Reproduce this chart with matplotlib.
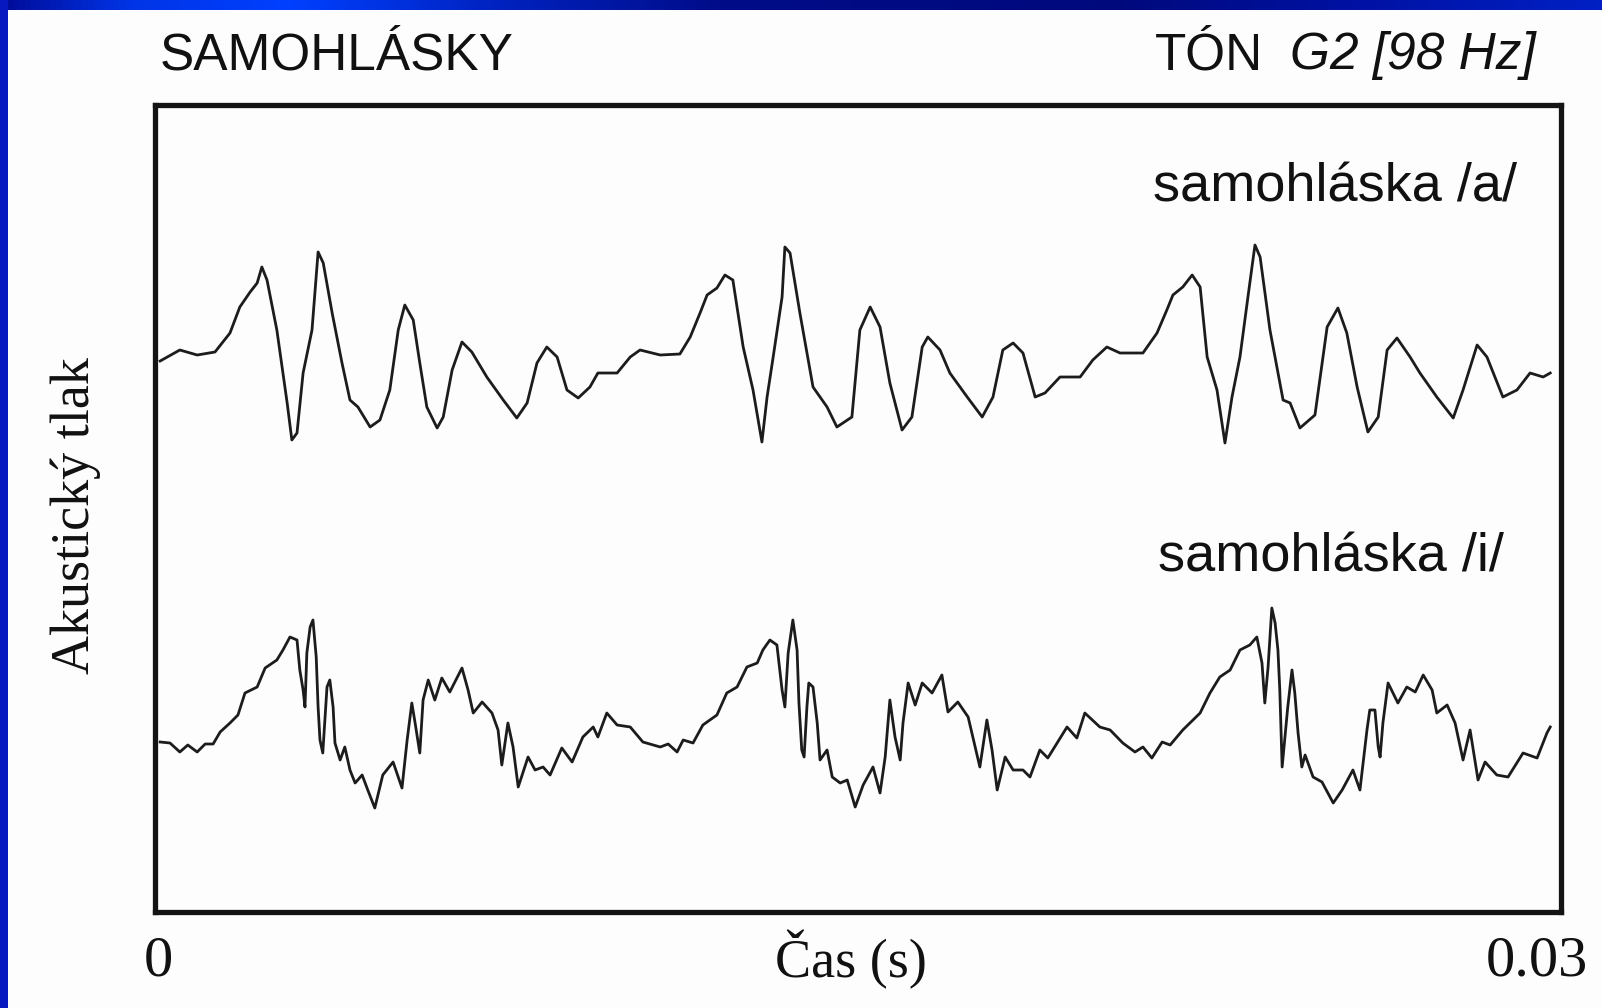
import numpy as np
import matplotlib
matplotlib.use("Agg")
import matplotlib.pyplot as plt
from matplotlib.patches import Rectangle
from matplotlib.colors import LinearSegmentedColormap

# ---- data (time in ms, acoustic pressure in arbitrary units) ----
t_a = [0.11, 0.53, 0.90, 1.28, 1.60, 1.81, 2.03, 2.18, 2.28, 2.39, 2.60, 2.82, 2.92, 3.03, 3.16,
       3.35, 3.48, 3.59, 3.78, 3.99, 4.16, 4.33, 4.59, 4.80, 5.01, 5.19, 5.33, 5.51, 5.65, 5.80,
       6.02, 6.15, 6.34, 6.55, 6.76, 7.08, 7.43, 7.72, 7.94, 8.15, 8.36, 8.58, 8.79, 9.03, 9.28,
       9.45, 9.86, 10.14, 10.35, 10.78, 11.20, 11.42, 11.63, 11.78, 11.99, 12.16, 12.33, 12.55,
       12.76, 12.95, 13.06, 13.19, 13.38, 13.44, 13.55, 13.76, 14.04, 14.34, 14.55, 14.87, 15.04,
       15.26, 15.47, 15.68, 15.94, 16.15, 16.37, 16.49, 16.75, 16.96, 17.33, 17.65, 17.88, 18.09,
       18.31, 18.52, 18.78, 18.99, 19.31, 19.74, 20.01, 20.31, 20.59, 21.08, 21.38, 21.59, 21.72,
       21.93, 22.13, 22.30, 22.45, 22.66, 22.83, 22.98, 23.15, 23.32, 23.47, 23.58, 23.79, 24.07,
       24.22, 24.43, 24.75, 25.01, 25.24, 25.43, 25.65, 25.88, 26.10, 26.29, 26.50, 26.78, 26.99,
       27.35, 27.70, 27.91, 28.21, 28.42, 28.76, 29.06, 29.34, 29.62, 29.77]
p_a = [-6, 5, 0, 3, 22, 48, 63, 72, 88, 75, 25, -48, -85, -78, -18,
       25, 103, 92, 42, -8, -45, -52, -72, -65, -35, 25, 50, 35, -8, -52,
       -73, -62, -15, 13, 3, -22, -45, -63, -48, -8, 8, -2, -35, -43, -32,
       -18, -18, -2, 5, 0, 1, 18, 42, 60, 67, 80, 75, 8,
       -35, -87, -42, -2, 58, 108, 102, 42, -32, -52, -72, -62, 25,
       48, 28, -28, -75, -62, 8, 18, 5, -18, -42, -62, -42, 5,
       12, 2, -42, -38, -22, -22, -5, 8, 2, 2, 22, 45, 60,
       68, 80, 68, -2, -35, -88, -42, -2, 58, 110, 98, 25, -45,
       -48, -73, -60, 28, 47, 22, -32, -77, -62, 5, 17, -2, -18,
       -42, -63, -35, 10, -2, -42, -35, -18, -22, -18]

t_i = [0.11, 0.32, 0.53, 0.70, 0.90, 1.07, 1.24, 1.39, 1.60, 1.77, 1.92, 2.18, 2.35, 2.60, 2.73,
       2.88, 3.03, 3.09, 3.16, 3.20, 3.24, 3.31, 3.37, 3.44, 3.48, 3.52, 3.58, 3.63, 3.67, 3.73,
       3.80, 3.84, 3.95, 4.05, 4.16, 4.27, 4.42, 4.54, 4.69, 4.86, 5.08, 5.27, 5.38, 5.48, 5.55,
       5.65, 5.72, 5.83, 5.97, 6.12, 6.29, 6.55, 6.68, 6.79, 6.98, 7.19, 7.32, 7.40, 7.53, 7.64,
       7.75, 7.96, 8.11, 8.28, 8.43, 8.68, 8.90, 9.13, 9.35, 9.45, 9.64, 9.86, 10.14, 10.41,
       10.78, 10.95, 11.14, 11.27, 11.48, 11.69, 11.99, 12.20, 12.42, 12.63, 12.85, 12.97, 13.12,
       13.27, 13.38, 13.44, 13.51, 13.59, 13.61, 13.70, 13.74, 13.80, 13.85, 13.91, 13.95, 14.04,
       14.13, 14.19, 14.34, 14.45, 14.62, 14.77, 14.94, 15.11, 15.32, 15.47, 15.58, 15.68, 15.79,
       15.90, 15.96, 16.07, 16.22, 16.37, 16.58, 16.79, 16.92, 17.13, 17.35, 17.60, 17.75, 17.86,
       17.97, 18.14, 18.31, 18.52, 18.67, 18.88, 19.05, 19.46, 19.67, 19.84, 20.16, 20.38, 20.65,
       20.91, 21.08, 21.27, 21.49, 21.66, 21.93, 22.30, 22.51, 22.72, 22.94, 23.15, 23.36, 23.51,
       23.62, 23.68, 23.75, 23.83, 23.90, 23.96, 24.00, 24.05, 24.11, 24.17, 24.26, 24.32, 24.39,
       24.47, 24.54, 24.71, 24.90, 25.14, 25.33, 25.56, 25.71, 25.86, 25.92, 26.03, 26.10, 26.14,
       26.20, 26.31, 26.52, 26.71, 26.89, 27.06, 27.25, 27.35, 27.57, 27.74, 27.91, 28.06, 28.23,
       28.38, 28.63, 28.87, 29.19, 29.49, 29.70, 29.77]
p_i = [-2, -3, -12, -5, -12, -4, -4, 8, 17, 25, 47, 53, 72, 80, 90,
       103, 100, 70, 50, 33, 87, 113, 120, 83, 33, 0, -13, 23, 53, 60,
       33, -3, -20, -7, -30, -43, -35, -50, -68, -35, -22, -48, 0, 37, 17,
       -13, 40, 60, 40, 62, 48, 72, 50, 27, 38, 27, 10, -25, 17, -7,
       -47, -17, -30, -27, -35, -8, -22, 3, 13, 3, 27, 15, 13, -2,
       -7, -4, -12, 0, -3, 15, 25, 47, 53, 73, 77, 90, 100,
       95, 50, 33, 87, 113, 120, 90, 37, -10, -17, 33, 57, 53,
       17, -20, -10, -37, -43, -40, -67, -45, -27, -53, -17, 40, 3,
       -20, 17, 57, 35, 57, 47, 65, 28, 38, 23, -27, 20, -10,
       -50, -17, -30, -30, -37, -10, -18, 13, 2, 27, 13, 10, -3,
       -12, -7, -18, -2, -5, 10, 27, 47, 63, 70, 90, 95, 103,
       77, 37, 73, 132, 117, 90, 50, -27, 3, 33, 70, 47, 7,
       -27, -15, -37, -42, -63, -50, -30, -50, 10, 30, 30, -7, -17,
       17, 57, 37, 53, 48, 65, 50, 27, 35, 17, -20, 10, -40,
       -22, -35, -37, -13, -18, 7, 13]

x_ticks = [0, 0.03]
x_tick_labels = ["0", "0.03"]

W, H = 1602, 1008
fig = plt.figure(figsize=(W / 100, H / 100), dpi=100)
fig.patch.set_facecolor("#fdfdfd")

# blue frame (slide border)
cmap = LinearSegmentedColormap.from_list(
    "bar", [(0, "#000c98"), (0.08, "#0034e6"), (0.18, "#0040ff"), (0.3, "#0024c4"),
            (0.45, "#000c88"), (0.7, "#00097c"), (0.85, "#0012a4"), (1, "#0020c4")])
bar = fig.add_axes([0, 1 - 10 / H, 1, 10 / H])
bar.imshow(np.linspace(0, 1, 256)[None, :], aspect="auto", cmap=cmap)
bar.axis("off")
fig.patches.append(Rectangle((0, 0), 8 / W, 1, transform=fig.transFigure,
                             facecolor="#0818c0", edgecolor="none", zorder=5))

ax = fig.add_axes([155 / W, 96 / H, 1406 / W, 807 / H])
ax.set_facecolor("#fdfdfd")
off_a, off_i = 557, 172
ax.plot(np.array(t_a) / 1000, np.array(p_a) + off_a, color="#1c1c1c", lw=2.0)
ax.plot(np.array(t_i) / 1000, np.array(p_i) + off_i, color="#1c1c1c", lw=2.0)
ax.set_xlim(0, 0.03)
ax.set_ylim(0, 807)
ax.set_yticks([])
ax.set_xticks(x_ticks)
ax.set_xticklabels([])
ax.tick_params(axis="x", length=0)
for s in ax.spines.values():
    s.set_linewidth(3.8)
    s.set_color("#141414")

serif = ["Liberation Serif", "DejaVu Serif"]
sans = ["Liberation Sans", "DejaVu Sans"]


def fx(px):
    return px / W


def fy(py):
    return 1 - py / H


# tick labels placed like the reference (0 centred, 0.03 ending right of the frame)
fig.text(fx(158), fy(962), x_tick_labels[0], family=serif, fontsize=42, ha="center",
         va="center", color="#111111")
fig.text(fx(1588), fy(962), x_tick_labels[1], family=serif, fontsize=42, ha="right",
         va="center", color="#111111")
fig.text(fx(851), fy(960), "Čas (s)", family=serif, fontsize=39, ha="center", va="center",
         color="#111111")
fig.text(fx(76), fy(516), "Akustický tlak", family=serif, fontsize=39, rotation=90,
         ha="center", va="center", color="#111111")
fig.text(fx(160), fy(56), "SAMOHLÁSKY", family=sans, fontsize=37, ha="left", va="center",
         color="#111111")
fig.text(fx(1155), fy(56), "TÓN", family=sans, fontsize=37, ha="left", va="center",
         color="#111111")
fig.text(fx(1536), fy(56), "G2 [98 Hz]", family=sans, style="italic", fontsize=37,
         ha="right", va="center", color="#111111")
fig.text(fx(1517), fy(188), "samohláska /a/", family=sans, fontsize=39, ha="right",
         va="center", color="#111111")
fig.text(fx(1504), fy(557), "samohláska /i/", family=sans, fontsize=39, ha="right",
         va="center", color="#111111")

fig.savefig("out.png", dpi=100, facecolor=fig.get_facecolor())
